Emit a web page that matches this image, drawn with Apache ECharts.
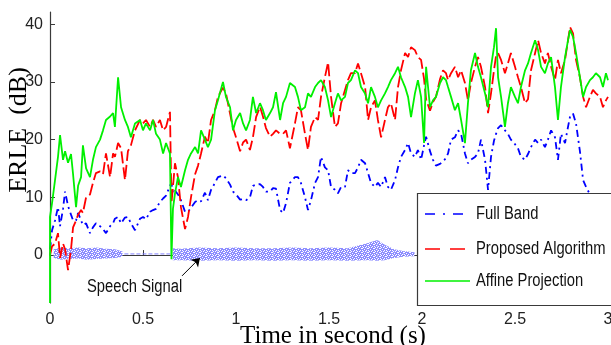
<!DOCTYPE html>
<html><head><meta charset="utf-8">
<script src="https://cdn.jsdelivr.net/npm/echarts@6/dist/echarts.min.js"></script>
<style>html,body{margin:0;padding:0;background:#fff}#c{width:611px;height:345px}</style>
</head><body><div id="c"></div>
<script>
// time (s) shared by the three ERLE curves
const timeS = [
0,0,0.011,0.027,0.043,0.054,0.070,0.081,0.097,0.113,
0.124,0.140,0.151,0.167,0.177,0.194,0.215,0.231,0.247,0.269,
0.285,0.301,0.323,0.339,0.349,0.366,0.382,0.403,0.419,0.435,
0.457,0.484,0.500,0.516,0.538,0.554,0.570,0.591,0.608,0.624,
0.645,0.653,0.661,0.672,0.688,0.704,0.726,0.742,0.758,0.780,
0.796,0.812,0.833,0.849,0.866,0.887,0.903,0.930,0.946,0.968,
0.984,1.000,1.022,1.038,1.054,1.075,1.091,1.108,1.129,1.145,
1.161,1.183,1.199,1.215,1.237,1.253,1.269,1.290,1.317,1.333,
1.349,1.371,1.387,1.403,1.425,1.441,1.457,1.478,1.495,1.511,
1.532,1.548,1.565,1.586,1.602,1.618,1.640,1.656,1.672,1.694,
1.710,1.726,1.747,1.763,1.780,1.801,1.817,1.833,1.855,1.871,
1.887,1.909,1.925,1.941,1.962,1.978,1.995,2.011,2.022,2.043,
2.059,2.075,2.097,2.113,2.129,2.140,2.156,2.177,2.194,2.210,
2.231,2.247,2.263,2.285,2.301,2.317,2.339,2.355,2.371,2.387,
2.398,2.409,2.425,2.446,2.462,2.478,2.500,2.516,2.532,2.554,
2.570,2.586,2.608,2.624,2.640,2.661,2.677,2.694,2.715,2.731,
2.747,2.769,2.785,2.796,2.812,2.828,2.849,2.866,2.882,2.903,
2.919,2.935,2.957,2.973,2.989,3.000];

const affine = [
-8.3,6.6,9,13,17,20.8,16.5,18,16,17.5,
14,8.3,12,13.5,19,15,13.5,16.5,18.7,20,
21.6,23.4,24,24.6,22.2,30.8,25.6,23.4,22.2,20.4,
22.8,23.4,21.6,22.8,21.6,23.4,21,20,17.6,19.4,
17.6,-0.7,8,10.7,13.5,11.8,14.7,16.5,17.6,18.7,
17.6,21.6,20,18.7,20,25.1,26.8,30,27.4,25.6,
21.6,23.4,24.6,22.8,21.6,23.4,27.4,24.6,26.3,25.1,
23.4,24.6,25.6,28.2,23.4,26.3,27.4,29.8,29.1,27.4,
25.1,25.6,28,27.4,29.1,29.8,30.3,29.1,26.8,23.9,
26.3,28,26.8,27.4,29.8,30.3,32,31.5,29.1,28,
26.3,29.1,27.4,25.6,26.8,28,29.1,30.3,31.5,32.6,
30.8,29.1,27.4,23.9,28,30.3,27.4,19.4,32.6,25.6,
26.8,27.4,29.8,30.8,30.3,29.1,27.4,25.1,26.3,23.4,
19.4,26.3,32,35,32.6,30.8,28,25.6,32.6,36,
39.3,30.8,27.4,22.2,26.3,29.1,27.4,26.3,29.1,32,
33.2,35,37.2,35.5,32.6,31.5,33.2,34.3,29.1,23.4,
29.1,34.3,37.2,39,37.8,35,30.8,27.4,29.1,30.3,
30.8,31.5,30.8,29.1,31.5,30.3];

const proposed = [
0,0,1.5,2,3.8,-0.5,2,1,-2.6,1,
4.8,6,7,7.8,7.3,10,10.5,12.5,14.2,14.5,
14,17.6,13.5,17.6,17,19.4,18.5,13,18,19,
21.6,23.4,22.8,23.4,22.2,23.4,22.2,23.4,21.6,22.2,
24.8,9,11.8,15.9,13.5,8.3,4.5,6.6,10,14,
15.5,17.6,20.5,19.4,23.4,25.1,27.4,29,28,24.5,
22,20.4,18,19.5,20,18.2,20.4,23.9,25.7,24,
22,20.5,21,21.6,21,21,21.6,18.5,22.8,25.6,
25.1,21,18.2,22.2,23.9,23.4,27.4,30.8,33.4,27.4,
22.2,22.8,26.3,28.6,30.3,31.5,31.5,33.2,31.5,29.1,
23.4,25.6,26.8,23.4,20.4,23.4,25.6,26.3,23.4,29.1,
32,35,34.3,36,35.5,34.3,33.8,30.5,27,25,
26.5,27.4,30.5,32,31.5,30.3,31.5,32.6,30.8,32,
29.8,26.8,29.8,32.6,34.3,32.6,29.1,24.6,28,32,
34.5,35,33.8,31.5,33.2,35,32.6,30.8,29.1,26.3,
27,32,35,37.2,35,33.2,35,32.6,30.3,33.8,
31.5,33.8,37.2,39.5,38.4,33.8,30.8,27.4,25.6,27.4,
28.6,28,27.4,25.6,26.8,27.4];

const fullBand = [
1,1,4.3,6,8.3,5,8,11,8.5,7,
6,6,7.3,6,5.2,5.5,3.8,4.8,5.5,5,
4.5,3.8,5,5.5,6.3,6.6,5.5,6.5,6.6,5.5,
4.3,6.3,6.6,6.2,7.5,7.8,8,9.2,9.8,10.3,
12,12.5,10.7,11.2,10.5,9.5,7.5,7.5,8.2,9.2,
9.5,9.3,10.8,9.5,11.3,12.5,13.5,13.8,13.3,12.2,
11,10.5,9.6,9.7,9.5,10,12,12.2,12.3,11.8,
11,11,11.6,11.5,7.8,7.3,9,12.5,13.5,13.5,
12.5,10,7.8,9.5,12.5,13.5,17,15.2,14.7,11.8,
11.3,10.7,11.8,11.8,14.7,14.2,14.2,15.2,16.5,15.9,
14.2,12.5,11.8,12.5,11.8,13.5,11.8,11.3,13,15.2,
17,18.2,19.4,17.6,17,18.2,16.5,19,20.5,18,
16.5,15.5,15.8,16.2,16.8,17.6,20,20.4,21.6,21,
17.6,15.9,16.5,17,17.6,20,16.5,11.3,17,19.8,
21,22,22.5,21.6,21,20,19.2,18.5,17,16.5,
17.5,18.7,20,19.4,20,18.7,20,21.6,20.4,16.5,
21,19.4,22.2,24,24.5,22.8,18,13,11.8,10.5,
null,null,null,null,null,null];

// speech signal envelope (null = break)
const speechT  = [0.02,0.06,0.10,0.15,0.20,0.25,0.30,0.35,0.39,null,0.66,0.70,0.80,0.90,1.00,1.10,1.20,1.30,1.40,1.50,1.60,1.70,1.76,1.80,1.85,1.90,1.96];
const speechLo = [-0.5,-0.8,-0.7,-0.6,-0.8,-0.7,-0.6,-0.5,-0.3,null,-0.9,-0.9,-1.0,-0.9,-1.0,-0.9,-1.0,-0.9,-1.0,-0.9,-1.0,-0.9,-1.0,-0.9,-0.5,-0.3,-0.2];
const speechHi = [1.0,1.3,1.2,1.3,1.2,1.3,1.1,1.0,0.6,null,1.2,1.1,1.3,1.2,1.3,1.2,1.2,1.3,1.2,1.3,1.2,2.0,2.6,1.8,1.0,0.7,0.5];
const silenceT = [0.40,0.655];
const silenceV = [0.2,0.2];

const yTickValues = [0,10,20,30,40];
const legendNames = ['Full Band', 'Proposed Algorithm', 'Affine Projection'];
const xTitle = 'Time in second (s)', yTitle = 'ERLE  (dB)', noteText = 'Speech Signal';
const arrowFrom = [0.710,-3.6], arrowTo = [0.806,-0.5];
const noteAt = [0.199,-5.45];

const sans = "'Liberation Sans',Arial,sans-serif";
const serif = "'Liberation Serif','Times New Roman',serif";
const axisCol = '#3a3a3a';
const cBlue = '#0000ff', cRed = '#ff0000', cGreen = '#00f000';
const dashBlue = [7, 4, 2, 4], dashRed = [12, 4];

// texture for the speech band
const pat = document.createElement('canvas');
pat.width = 6; pat.height = 4;
(function () {
  const g = pat.getContext('2d');
  g.fillStyle = '#8c8cff'; g.fillRect(0, 0, 6, 4);
  g.fillStyle = '#ffffff';
  g.fillRect(1, 0, 2, 1); g.fillRect(4, 1, 1, 1); g.fillRect(2, 2, 1, 1);
  g.fillRect(5, 3, 1, 1); g.fillRect(0, 2, 1, 1); g.fillRect(3, 3, 1, 1);
})();

const zip = (t, v) => t.map((x, i) => [x, v[i]]);
const segs = [];
for (let i = 0; i < speechT.length - 1; i++) {
  if (speechT[i] != null && speechT[i + 1] != null)
    segs.push([speechT[i], speechLo[i], speechHi[i], speechT[i + 1], speechLo[i + 1], speechHi[i + 1]]);
}

const chart = echarts.init(document.getElementById('c'), null, {renderer: 'canvas'});
chart.setOption({
  animation: false,
  backgroundColor: '#fff',
  grid: {left: 50, right: 3, top: 12, bottom: 42, containLabel: false, outerBoundsMode: 'none'},
  xAxis: {
    type: 'value', min: 0, max: 3, interval: 0.5,
    axisLine: {show: true, lineStyle: {color: axisCol, width: 1.2}},
    axisTick: {inside: true, length: 5, lineStyle: {color: axisCol}},
    axisLabel: {fontFamily: sans, fontSize: 16, color: '#222', margin: 9},
    splitLine: {show: false}
  },
  yAxis: {
    type: 'value', min: -8.3, max: 42.1,
    axisLine: {show: true, onZero: false, lineStyle: {color: axisCol, width: 1.2}},
    axisTick: {inside: true, length: 5, customValues: yTickValues, lineStyle: {color: axisCol}},
    axisLabel: {customValues: yTickValues, fontFamily: sans, fontSize: 16, color: '#222', margin: 7},
    splitLine: {show: false}
  },
  series: [
    {
      type: 'custom', name: 'speech', z: 1, clip: true,
      data: segs,
      encode: {x: [0, 3], y: [1, 2, 4, 5]},
      renderItem: function (params, api) {
        const a = api.coord([api.value(0), api.value(1)]);
        const b = api.coord([api.value(3), api.value(4)]);
        const c = api.coord([api.value(3), api.value(5)]);
        const d = api.coord([api.value(0), api.value(2)]);
        return {type: 'polygon', shape: {points: [a, b, c, d]},
          style: {fill: {image: pat, repeat: 'repeat'}, stroke: null}};
      }
    },
    {
      type: 'line', name: 'silence', z: 1, symbol: 'none',
      data: zip(silenceT, silenceV),
      lineStyle: {color: '#8080ff', width: 1, type: [4, 2]},
      markLine: {
        silent: true, animation: false, symbol: ['none', 'arrow'], symbolSize: 8,
        lineStyle: {color: '#000', type: 'solid', width: 1}, label: {show: false},
        data: [[{coord: arrowFrom}, {coord: arrowTo}]]
      }
    },
    {
      type: 'line', name: legendNames[0], symbol: 'none', z: 3,
      data: zip(timeS, fullBand), connectNulls: false,
      lineStyle: {color: cBlue, width: 1.8, type: dashBlue}
    },
    {
      type: 'line', name: legendNames[1], symbol: 'none', z: 3,
      data: zip(timeS, proposed),
      lineStyle: {color: cRed, width: 1.8, type: dashRed}
    },
    {
      type: 'line', name: legendNames[2], symbol: 'none', z: 3,
      data: zip(timeS, affine),
      lineStyle: {color: cGreen, width: 1.8, type: 'solid'}
    }
  ]
});

// legend box, axis titles and annotation text
const note = chart.convertToPixel({gridIndex: 0}, noteAt);
const legCols = [cBlue, cRed, cGreen], legDash = [[10, 8, 2, 8], [15, 10], null];
const legY = [214, 249, 281];
const graphics = [
  {type: 'text', x: 19, y: 130, rotation: Math.PI / 2, z: 100,
   style: {text: yTitle, fontFamily: serif, fontSize: 26, fill: '#000', align: 'center', verticalAlign: 'middle'}},
  {type: 'text', x: 333, y: 336, z: 100,
   style: {text: xTitle, fontFamily: serif, fontSize: 25, fill: '#000', align: 'center', verticalAlign: 'middle'}},
  {type: 'text', x: note[0], y: note[1], scaleX: 0.82, z: 100,
   style: {text: noteText, fontFamily: sans, fontSize: 18, fill: '#111', align: 'left', verticalAlign: 'middle'}},
  {type: 'rect', shape: {x: 417.5, y: 193.5, width: 220, height: 112}, z: 100,
   style: {fill: '#fff', stroke: axisCol, lineWidth: 1.2}}
];
legendNames.forEach((n, i) => {
  graphics.push({type: 'line', z: 101, shape: {x1: 425, y1: legY[i], x2: 470, y2: legY[i]},
    style: {stroke: legCols[i], lineWidth: 1.5, lineDash: legDash[i]}});
  graphics.push({type: 'text', z: 101, x: 476, y: legY[i], scaleX: 0.82,
    style: {text: n, fontFamily: sans, fontSize: 18, fill: '#111', align: 'left', verticalAlign: 'middle'}});
});
chart.setOption({graphic: graphics});
</script></body></html>
